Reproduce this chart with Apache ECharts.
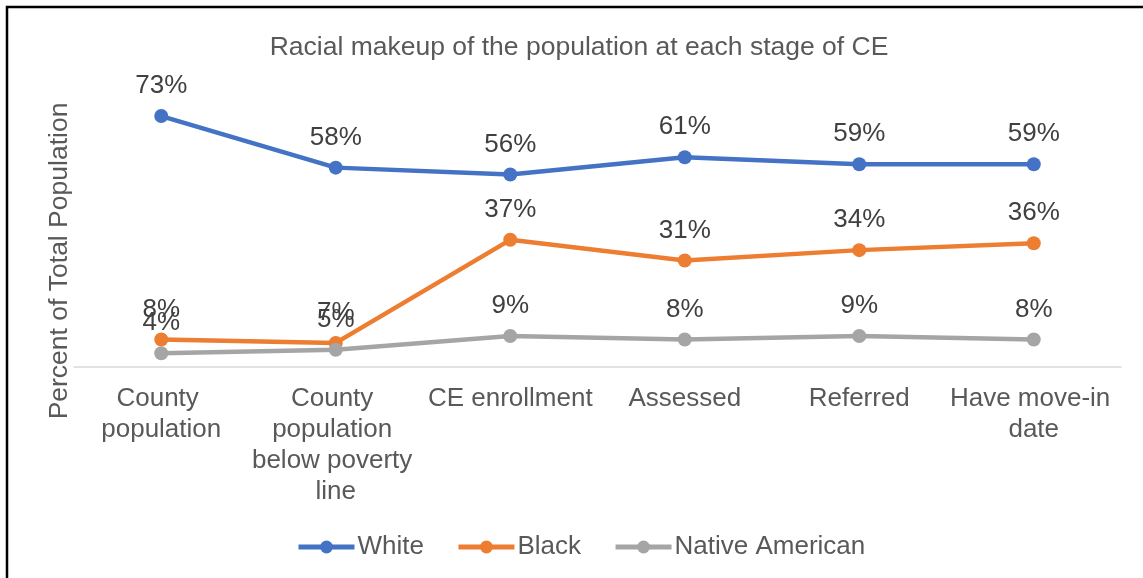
<!DOCTYPE html>
<html>
<head>
<meta charset="utf-8">
<style>
  html, body { margin: 0; padding: 0; background: #ffffff; }
  #chart { width: 1143px; height: 578px; }
</style>
<script src="https://cdn.jsdelivr.net/npm/echarts@6/dist/echarts.min.js"></script>
</head>
<body>
<div id="chart"></div>
<script>
// Stages of the coordinated entry (CE) process
const stages = [
  'County population',
  'County population below poverty line',
  'CE enrollment',
  'Assessed',
  'Referred',
  'Have move-in date'
];

// Share of each group at every stage, in percent
const white = [73, 58, 56, 61, 59, 59];
const black = [8, 7, 37, 31, 34, 36];
const nativeAmerican = [4, 5, 9, 8, 9, 8];

const FONT = '"Liberation Sans", Arial, sans-serif';

function lineSeries(name, values, color) {
  return {
    name: name,
    type: 'line',
    data: values,
    symbol: 'circle',
    symbolSize: 14,
    lineStyle: { width: 4.5, color: color },
    itemStyle: { color: color },
    label: {
      show: true,
      position: 'top',
      distance: 10,
      formatter: '{c}%',
      fontFamily: FONT,
      fontSize: 26,
      color: '#404040'
    },
    emphasis: { disabled: true },
    animation: false
  };
}

const chart = echarts.init(document.getElementById('chart'), null, { renderer: 'canvas' });

chart.setOption({
  backgroundColor: '#ffffff',
  animation: false,
  title: {
    text: 'Racial makeup of the population at each stage of CE',
    left: 574,
    textAlign: 'center',
    top: 29,
    textStyle: {
      fontFamily: FONT,
      fontSize: 26.5,
      fontWeight: 'normal',
      color: '#595959'
    }
  },
  legend: {
    bottom: 13,
    left: 291,
    itemWidth: 56,
    itemHeight: 16,
    itemGap: 32,
    lineStyle: { width: 5 },
    textStyle: { fontFamily: FONT, fontSize: 26, color: '#595959', padding: [0, 0, 0, -2] },
    data: ['White', 'Black', 'Native American']
  },
  grid: { left: 74, right: 22, top: 92, bottom: 211, containLabel: false },
  xAxis: {
    type: 'category',
    data: stages,
    boundaryGap: true,
    axisLine: { show: true, lineStyle: { color: '#D9D9D9', width: 1.5 } },
    axisTick: { show: false },
    axisLabel: {
      interval: 0,
      margin: 16,
      width: 174,
      overflow: 'break',
      lineHeight: 31,
      fontFamily: FONT,
      fontSize: 26,
      color: '#595959'
    }
  },
  yAxis: {
    type: 'value',
    min: 0,
    max: 80,
    axisLine: { show: false },
    axisTick: { show: false },
    axisLabel: { show: false },
    splitLine: { show: false }
  },
  graphic: [
    {
      type: 'rect',
      silent: true,
      shape: { x: 7, y: 7, width: 1300, height: 700 },
      style: { fill: 'none', stroke: '#000000', lineWidth: 2.5 }
    },
    {
      type: 'text',
      silent: true,
      x: 60,
      y: 261,
      rotation: Math.PI / 2,
      style: {
        text: 'Percent of Total Population',
        fontFamily: FONT,
        fontSize: 26.5,
        fill: '#595959',
        align: 'center',
        verticalAlign: 'middle'
      }
    }
  ],
  series: [
    lineSeries('White', white, '#4472C4'),
    lineSeries('Black', black, '#ED7D31'),
    lineSeries('Native American', nativeAmerican, '#A5A5A5')
  ]
});
</script>
</body>
</html>
